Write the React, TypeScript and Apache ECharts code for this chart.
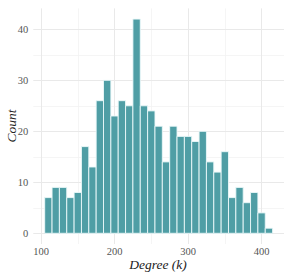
import React, { useEffect, useRef } from "react";
import * as echarts from "echarts";

const binStarts = [105,115,125,135,145,155,165,175,185,195,205,215,225,235,245,255,265,275,285,295,305,315,325,335,345,355,365,375,385,395,405];
const binWidth = 10;
const counts = [7,9,9,7,8,17,13,26,30,23,26,25,42,25,24,21,14,21,19,19,18,20,14,12,16,7,9,6,8,4,1];
const xTicks = [100, 200, 300, 400];
const xMinor = [150, 250, 350];
const yTicks = [0, 10, 20, 30, 40];
const yMinor = [5, 15, 25, 35];

export default function App() {
  const ref = useRef<HTMLDivElement>(null);
  useEffect(() => {
    const chart = echarts.init(ref.current!, null, { renderer: "svg" });
    const font = "Liberation Serif";
    const data = binStarts.map((s, i) => [s, s + binWidth, counts[i]]);
    chart.setOption({
      animation: false,
      grid: { left: 33.3, top: 8.4, width: 251.2, height: 235.6, containLabel: false },
      xAxis: {
        type: "value",
        min: 89.5,
        max: 430.5,
        axisLine: { show: false },
        axisTick: { show: false },
        splitLine: { show: false },
        axisLabel: {
          customValues: xTicks,
          color: "#555",
          fontFamily: font,
          fontSize: 10.5,
          margin: 2,
        },
      },
      yAxis: {
        type: "value",
        min: -2.1,
        max: 44.1,
        axisLine: { show: false },
        axisTick: { show: false },
        splitLine: { show: false },
        axisLabel: {
          customValues: yTicks,
          color: "#555",
          fontFamily: font,
          fontSize: 10.5,
          margin: 5,
        },
      },
      graphic: [
        {
          type: "text",
          x: 158,
          y: 264,
          style: {
            text: "Degree (k)",
            fontFamily: font,
            fontStyle: "italic",
            fontSize: 13.5,
            fill: "#222",
            align: "center",
            verticalAlign: "middle",
          },
        },
        {
          type: "text",
          x: 11,
          y: 126,
          rotation: Math.PI / 2,
          style: {
            text: "Count",
            fontFamily: font,
            fontStyle: "italic",
            fontSize: 13.5,
            fill: "#222",
            align: "center",
            verticalAlign: "middle",
          },
        },
      ],
      series: [
        {
          type: "line",
          data: [],
          silent: true,
          z: 0,
          markLine: {
            silent: true,
            symbol: "none",
            z: 0,
            label: { show: false },
            data: [
              ...xMinor.map((v) => ({ xAxis: v, lineStyle: { color: "#f3f3f3", width: 0.8, type: "solid" } })),
              ...yMinor.map((v) => ({ yAxis: v, lineStyle: { color: "#f3f3f3", width: 0.8, type: "solid" } })),
              ...xTicks.map((v) => ({ xAxis: v, lineStyle: { color: "#e9e9e9", width: 1, type: "solid" } })),
              ...yTicks.map((v) => ({ yAxis: v, lineStyle: { color: "#e9e9e9", width: 1, type: "solid" } })),
            ],
          },
        },
        {
          type: "custom",
          z: 5,
          data,
          renderItem: (params: any, api: any) => {
            const p0 = api.coord([api.value(0), api.value(2)]);
            const p1 = api.coord([api.value(1), 0]);
            return {
              type: "rect",
              shape: { x: p0[0], y: p0[1], width: p1[0] - p0[0], height: p1[1] - p0[1] },
              style: { fill: "#4f9ea5", stroke: "rgba(235,248,250,0.9)", lineWidth: 1 },
            };
          },
        },
      ],
    });
    return () => chart.dispose();
  }, []);
  return <div ref={ref} style={{ position: "absolute", left: 0, top: 0, width: 284, height: 274 }} />;
}
